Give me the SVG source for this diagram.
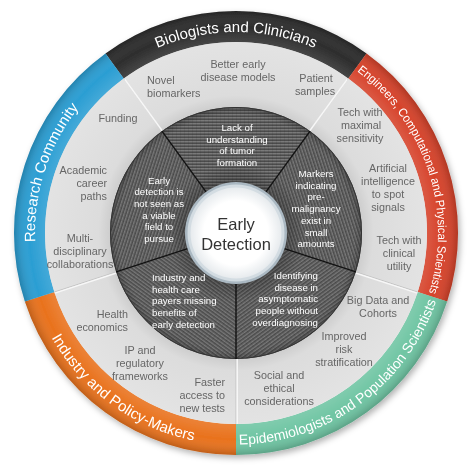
<svg xmlns="http://www.w3.org/2000/svg" width="474" height="474" viewBox="0 0 474 474">
<style>
.lbl{font-family:"Liberation Sans",Arial,sans-serif;font-size:10.8px;fill:#666;}
.inn{font-family:"Liberation Sans",Arial,sans-serif;font-size:9.7px;fill:#fff;}
.band{font-family:"Liberation Sans",Arial,sans-serif;font-size:15px;fill:#fff;}
.ctr{font-family:"Liberation Sans",Arial,sans-serif;font-size:16.5px;fill:#333;}
.div{stroke:#f7f7f7;stroke-width:1.5;}
.divs{stroke:#c4c4c4;stroke-width:1;}
.sec{stroke:#111;stroke-width:1.4;}
</style>
<defs>
<pattern id="hatch" patternUnits="userSpaceOnUse" width="4" height="3">
<rect width="4" height="3" fill="#606060"/>
<rect y="0" width="4" height="1" fill="#7a7a7a"/>
<rect y="2" width="4" height="1" fill="#4c4c4c"/>
<rect x="0" width="1" height="3" fill="#000" opacity="0.07"/>
</pattern>
<radialGradient id="grayg" cx="236" cy="233" r="191" gradientUnits="userSpaceOnUse">
<stop offset="0.64" stop-color="#c9c9c9"/>
<stop offset="0.72" stop-color="#dcdcdc"/>
<stop offset="1" stop-color="#e3e3e3"/>
</radialGradient>
<radialGradient id="darkg" cx="236" cy="233" r="126" gradientUnits="userSpaceOnUse">
<stop offset="0.4" stop-color="#000" stop-opacity="0.22"/>
<stop offset="0.55" stop-color="#000" stop-opacity="0"/>
<stop offset="0.94" stop-color="#000" stop-opacity="0"/>
<stop offset="1" stop-color="#000" stop-opacity="0.22"/>
</radialGradient>
<radialGradient id="whiteg" cx="236" cy="233" r="46" gradientUnits="userSpaceOnUse">
<stop offset="0.7" stop-color="#ffffff"/>
<stop offset="1" stop-color="#e6eaed"/>
</radialGradient>
<radialGradient id="bandshade" cx="236" cy="233" r="222" gradientUnits="userSpaceOnUse">
<stop offset="0.86" stop-color="#fff" stop-opacity="0.12"/>
<stop offset="0.93" stop-color="#fff" stop-opacity="0"/>
<stop offset="1" stop-color="#000" stop-opacity="0.18"/>
</radialGradient>
<filter id="shadow" x="-10%" y="-10%" width="120%" height="120%">
<feDropShadow dx="2" dy="3" stdDeviation="3" flood-color="#000" flood-opacity="0.3"/>
</filter>
<path id="bandseg" d="M105.51,53.40 A222,222 0 0 1 366.49,53.40 L348.27,78.48 A191,191 0 0 0 123.73,78.48 Z"/>
<path id="darkseg" d="M161.94,131.06 A126,126 0 0 1 310.06,131.06 L265.39,192.55 A50,50 0 0 0 206.61,192.55 Z"/>
<path id="tpTop" d="M117.86,70.39 A201,201 0 0 1 354.14,70.39"/>
<path id="tpRight" d="M354.73,69.58 A202,202 0 0 1 428.12,295.42"/>
<path id="tpLeft" d="M44.84,295.11 A201,201 0 0 1 117.86,70.39"/>
<path id="tpBR" d="M236,444.5 A211.5,211.5 0 0 0 437.15,298.36"/>
<path id="tpBL" d="M34.38,298.51 A212,212 0 0 0 236,445"/>
</defs>

<rect width="474" height="474" fill="#fff"/>

<g id="outer-bands" filter="url(#shadow)">
<g id="band-biologists">
<use href="#bandseg" fill="#2d2d2d"/>
<use href="#bandseg" fill="url(#bandshade)"/>
<text class="band"><textPath href="#tpTop" startOffset="50%" text-anchor="middle">Biologists and Clinicians</textPath></text>
</g>
<g id="band-engineers">
<use href="#bandseg" fill="#d6422a" transform="rotate(72 236 233)"/>
<use href="#bandseg" fill="url(#bandshade)" transform="rotate(72 236 233)"/>
<text class="band" style="font-size:12px"><textPath href="#tpRight" startOffset="50%" text-anchor="middle" textLength="248" lengthAdjust="spacingAndGlyphs">Engineers, Computational and Physical Scientists</textPath></text>
</g>
<g id="band-epidemiologists">
<use href="#bandseg" fill="#6fc5a3" transform="rotate(144 236 233)"/>
<use href="#bandseg" fill="url(#bandshade)" transform="rotate(144 236 233)"/>
<text class="band" style="font-size:14px"><textPath href="#tpBR" startOffset="50%" text-anchor="middle">Epidemiologists and Population Scientists</textPath></text>
</g>
<g id="band-industry">
<use href="#bandseg" fill="#e9721d" transform="rotate(216 236 233)"/>
<use href="#bandseg" fill="url(#bandshade)" transform="rotate(216 236 233)"/>
<text class="band"><textPath href="#tpBL" startOffset="50%" text-anchor="middle">Industry and Policy-Makers</textPath></text>
</g>
<g id="band-research">
<use href="#bandseg" fill="#2b9ed3" transform="rotate(288 236 233)"/>
<use href="#bandseg" fill="url(#bandshade)" transform="rotate(288 236 233)"/>
<text class="band"><textPath href="#tpLeft" startOffset="50%" text-anchor="middle">Research Community</textPath></text>
</g>
</g>

<g id="gray-ring">
<circle cx="236" cy="233" r="191" fill="url(#grayg)"/>
</g>

<g id="connectors">
<g id="gray-dividers">
<line class="divs" x1="161.94" y1="131.06" x2="123.73" y2="78.48"/>
<line class="div" x1="162.9" y1="131.8" x2="124.7" y2="79.2"/>
<line class="divs" x1="310.06" y1="131.06" x2="348.27" y2="78.48"/>
<line class="div" x1="309.1" y1="131.8" x2="347.3" y2="79.2"/>
<line class="divs" x1="355.83" y1="271.94" x2="417.65" y2="292.02"/>
<line class="div" x1="355.5" y1="273.0" x2="417.3" y2="293.1"/>
<line class="divs" x1="236" y1="359" x2="236" y2="424"/>
<line class="div" x1="237.2" y1="359" x2="237.2" y2="424"/>
<line class="divs" x1="116.17" y1="271.94" x2="54.35" y2="292.02"/>
<line class="div" x1="116.5" y1="273.0" x2="54.7" y2="293.1"/>
</g>
</g>

<g id="dark-ring">
<use href="#darkseg" fill="url(#hatch)"/>
<use href="#darkseg" fill="url(#hatch)" transform="rotate(72 236 233)"/>
<use href="#darkseg" fill="url(#hatch)" transform="rotate(144 236 233)"/>
<use href="#darkseg" fill="url(#hatch)" transform="rotate(216 236 233)"/>
<use href="#darkseg" fill="url(#hatch)" transform="rotate(288 236 233)"/>
<circle cx="236" cy="233" r="126" fill="url(#darkg)"/>
<circle cx="236" cy="233" r="125.5" fill="none" stroke="#333" stroke-width="1"/>
<line class="sec" x1="161.94" y1="131.06" x2="206.61" y2="192.55"/>
<line class="sec" x1="310.06" y1="131.06" x2="265.39" y2="192.55"/>
<line class="sec" x1="355.83" y1="271.94" x2="283.55" y2="248.45"/>
<line class="sec" x1="236" y1="359" x2="236" y2="283"/>
<line class="sec" x1="116.17" y1="271.94" x2="188.45" y2="248.45"/>
</g>

<g id="center-node">
<circle cx="236" cy="233" r="51" fill="#aab8c2"/>
<circle cx="236" cy="233" r="48.5" fill="#d3dce2"/>
<circle cx="236" cy="233" r="45.5" fill="url(#whiteg)"/>
<text class="ctr" text-anchor="middle"><tspan x="236" y="230">Early</tspan><tspan x="236" y="250">Detection</tspan></text>
</g>

<g id="inner-labels">
<g id="node-lack"><text class="inn" text-anchor="middle"><tspan x="237" y="131">Lack of</tspan><tspan x="237" y="142.7">understanding</tspan><tspan x="237" y="154.4">of tumor</tspan><tspan x="237" y="166.1">formation</tspan></text></g>
<g id="node-markers"><text class="inn" text-anchor="middle"><tspan x="316" y="177">Markers</tspan><tspan x="316" y="188.7">indicating</tspan><tspan x="316" y="200.4">pre-</tspan><tspan x="316" y="212.1">malignancy</tspan><tspan x="316" y="223.8">exist in</tspan><tspan x="316" y="235.5">small</tspan><tspan x="316" y="247.2">amounts</tspan></text></g>
<g id="node-identifying"><text class="inn" text-anchor="end"><tspan x="318" y="279">Identifying</tspan><tspan x="318" y="290.7">disease in</tspan><tspan x="318" y="302.4">asymptomatic</tspan><tspan x="318" y="314.1">people without</tspan><tspan x="318" y="325.8">overdiagnosing</tspan></text></g>
<g id="node-payers"><text class="inn"><tspan x="152" y="281">Industry and</tspan><tspan x="152" y="292.7">health care</tspan><tspan x="152" y="304.4">payers missing</tspan><tspan x="152" y="316.1">benefits of</tspan><tspan x="152" y="327.8">early detection</tspan></text></g>
<g id="node-notviable"><text class="inn" text-anchor="middle"><tspan x="159" y="183.5">Early</tspan><tspan x="159" y="195.2">detection is</tspan><tspan x="159" y="206.9">not seen as</tspan><tspan x="159" y="218.6">a viable</tspan><tspan x="159" y="230.3">field to</tspan><tspan x="159" y="242">pursue</tspan></text></g>
</g>

<g id="outer-labels">
<g id="node-novel"><text class="lbl"><tspan x="147" y="84">Novel</tspan><tspan x="147" y="97">biomarkers</tspan></text></g>
<g id="node-better"><text class="lbl" text-anchor="middle"><tspan x="238" y="68">Better early</tspan><tspan x="238" y="81">disease models</tspan></text></g>
<g id="node-patient"><text class="lbl" text-anchor="middle"><tspan x="316" y="82">Patient</tspan><tspan x="315" y="95">samples</tspan></text></g>
<g id="node-techsens"><text class="lbl" text-anchor="middle"><tspan x="360" y="116">Tech with</tspan><tspan x="361" y="129">maximal</tspan><tspan x="360" y="142">sensitivity</tspan></text></g>
<g id="node-ai"><text class="lbl" text-anchor="middle"><tspan x="388" y="172">Artificial</tspan><tspan x="388" y="185">intelligence</tspan><tspan x="388" y="198">to spot</tspan><tspan x="388" y="211">signals</tspan></text></g>
<g id="node-techclin"><text class="lbl" text-anchor="middle"><tspan x="399" y="244">Tech with</tspan><tspan x="399" y="257">clinical</tspan><tspan x="399" y="270">utility</tspan></text></g>
<g id="node-bigdata"><text class="lbl" text-anchor="middle"><tspan x="378" y="304">Big Data and</tspan><tspan x="378" y="317">Cohorts</tspan></text></g>
<g id="node-risk"><text class="lbl" text-anchor="middle"><tspan x="344" y="340">Improved</tspan><tspan x="344" y="353">risk</tspan><tspan x="344" y="366">stratification</tspan></text></g>
<g id="node-social"><text class="lbl" text-anchor="middle"><tspan x="279" y="379">Social and</tspan><tspan x="279" y="392">ethical</tspan><tspan x="279" y="405">considerations</tspan></text></g>
<g id="node-faster"><text class="lbl" text-anchor="end"><tspan x="225" y="386">Faster</tspan><tspan x="225" y="399">access to</tspan><tspan x="225" y="412">new tests</tspan></text></g>
<g id="node-ip"><text class="lbl" text-anchor="middle"><tspan x="140" y="354">IP and</tspan><tspan x="140" y="367">regulatory</tspan><tspan x="140" y="380">frameworks</tspan></text></g>
<g id="node-health"><text class="lbl" text-anchor="end"><tspan x="128" y="318">Health</tspan><tspan x="128" y="331">economics</tspan></text></g>
<g id="node-multi"><text class="lbl" text-anchor="middle"><tspan x="80" y="242">Multi-</tspan><tspan x="80" y="255">disciplinary</tspan><tspan x="80" y="268">collaborations</tspan></text></g>
<g id="node-academic"><text class="lbl" text-anchor="end"><tspan x="107" y="174">Academic</tspan><tspan x="107" y="187">career</tspan><tspan x="107" y="200">paths</tspan></text></g>
<g id="node-funding"><text class="lbl" text-anchor="middle"><tspan x="118" y="122">Funding</tspan></text></g>
</g>
</svg>
